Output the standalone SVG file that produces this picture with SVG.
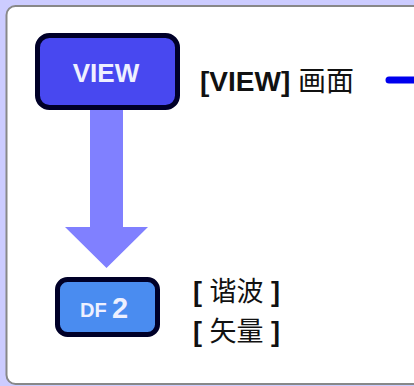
<svg xmlns="http://www.w3.org/2000/svg" width="414" height="386" viewBox="0 0 414 386">
<style>
.lbl{font-family:"Liberation Sans","Noto Sans CJK SC",sans-serif;fill:#111;}
.cjk{font-family:"Noto Sans CJK SC","Liberation Sans",sans-serif;font-weight:normal;}
.b{font-weight:bold;}
.keytxt{font-family:"Liberation Sans",Arial,sans-serif;font-weight:bold;fill:#eef0ff;}
.key{stroke:#000028;stroke-width:5;}
</style>
<rect x="0" y="0" width="414" height="386" fill="#ccccff"/>
<rect id="panel" x="6.5" y="6" width="430" height="378" rx="9" fill="#ffffff" stroke="#888888" stroke-width="2"/>
<g id="connectors">
<polygon points="90,110 123,110 123,227 148,227 106.5,268 65,227 90,227" fill="#8080ff"/>
<line x1="389" y1="80" x2="420" y2="80" stroke="#0000ee" stroke-width="7" stroke-linecap="round"/>
</g>
<g id="key-view">
<rect class="key" x="37.5" y="35.5" width="140" height="72" rx="12" fill="#4848f0"/>
<text class="keytxt" x="106" y="82" font-size="26" text-anchor="middle">VIEW</text>
</g>
<g id="label-view">
<text class="lbl" x="200" y="91" font-size="28"><tspan class="b">[VIEW]</tspan> <tspan class="cjk">画面</tspan></text>
</g>
<g id="key-df2">
<rect class="key" x="57.5" y="279.5" width="100" height="55" rx="10" fill="#4a8cf0"/>
<text class="keytxt" x="80" y="317" font-size="20">DF</text>
<text class="keytxt" x="112" y="318" font-size="29">2</text>
</g>
<g id="label-df2">
<text class="lbl" x="193" y="301" font-size="27"><tspan class="b">[</tspan> <tspan class="cjk">谐波</tspan> <tspan class="b">]</tspan></text>
<text class="lbl" x="193" y="341" font-size="27"><tspan class="b">[</tspan> <tspan class="cjk">矢量</tspan> <tspan class="b">]</tspan></text>
</g>
</svg>
